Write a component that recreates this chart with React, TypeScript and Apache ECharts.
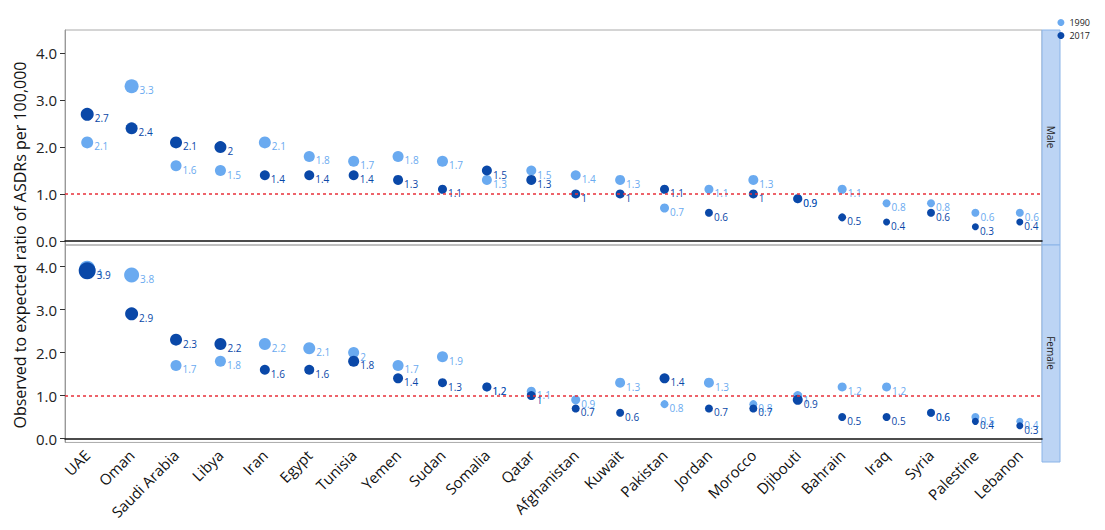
import React, { useEffect, useRef } from "react";
import * as echarts from "echarts";

const countries = ["UAE", "Oman", "Saudi Arabia", "Libya", "Iran", "Egypt", "Tunisia", "Yemen", "Sudan", "Somalia", "Qatar", "Afghanistan", "Kuwait", "Pakistan", "Jordan", "Morocco", "Djibouti", "Bahrain", "Iraq", "Syria", "Palestine", "Lebanon"];

const male1990 = [2.1, 3.3, 1.6, 1.5, 2.1, 1.8, 1.7, 1.8, 1.7, 1.3, 1.5, 1.4, 1.3, 0.7, 1.1, 1.3, 0.9, 1.1, 0.8, 0.8, 0.6, 0.6];
const male2017 = [2.7, 2.4, 2.1, 2.0, 1.4, 1.4, 1.4, 1.3, 1.1, 1.5, 1.3, 1.0, 1.0, 1.1, 0.6, 1.0, 0.9, 0.5, 0.4, 0.6, 0.3, 0.4];
const female1990 = [3.95, 3.8, 1.7, 1.8, 2.2, 2.1, 2.0, 1.7, 1.9, 1.2, 1.1, 0.9, 1.3, 0.8, 1.3, 0.8, 1.0, 1.2, 1.2, 0.6, 0.5, 0.4];
const female2017 = [3.9, 2.9, 2.3, 2.2, 1.6, 1.6, 1.8, 1.4, 1.3, 1.2, 1.0, 0.7, 0.6, 1.4, 0.7, 0.7, 0.9, 0.5, 0.5, 0.6, 0.4, 0.3];

const male1990Size = [12, 14, 11, 11, 12, 11, 11, 11, 11, 10, 10, 10, 10, 9, 9, 10, 9, 9, 8, 8, 8, 8];
const male2017Size = [13, 12, 12, 12, 10, 10, 10, 10, 9, 10, 10, 9, 9, 9, 8, 9, 9, 8, 7, 8, 7, 7];
const female1990Size = [16, 15, 11, 11, 12, 12, 11, 11, 11, 9, 9, 9, 10, 8, 10, 8, 9, 9, 9, 8, 8, 7];
const female2017Size = [17, 13, 12, 12, 10, 10, 11, 10, 9, 9, 9, 8, 8, 10, 8, 8, 10, 8, 8, 8, 7, 7];

const c1990 = "#6aaaf0";
const c2017 = "#0a48a8";

function dots(name: string, vals: number[], sizes: number[], color: string, g: number, withLine: boolean) {
  return {
    name,
    type: "scatter",
    xAxisIndex: g,
    yAxisIndex: g,
    data: vals.map((v, i) => ({ value: [countries[i], v], symbolSize: sizes[i] })),
    itemStyle: { color, opacity: 1 },
    label: {
      show: true,
      position: "right",
      distance: 1,
      offset: [0, 4],
      fontSize: 10,
      color,
      formatter: (p: any) => String(Math.round(p.value[1] * 10) / 10),
    },
    markLine: withLine
      ? {
          silent: true,
          symbol: "none",
          label: { show: false },
          lineStyle: { color: "#e8303a", type: [3, 3], width: 1.5 },
          data: [{ yAxis: 1 }],
        }
      : undefined,
  };
}

const App = () => {
  const ref = useRef<HTMLDivElement>(null);

  useEffect(() => {
    if (!ref.current) return;
    const chart = echarts.init(ref.current, null, { renderer: "svg" });
    const yAxis = (g: number) => ({
      gridIndex: g,
      type: "value",
      min: -0.09,
      max: 4.5,
      axisLine: { show: true, lineStyle: { color: "#999" } },
      axisTick: { show: true, customValues: [0, 1, 2, 3, 4], lineStyle: { color: "#333" } },
      axisLabel: { customValues: [0, 1, 2, 3, 4], fontSize: 15, color: "#222", formatter: (v: number) => v.toFixed(1) },
      splitLine: { show: false },
    });
    const xAxis = (g: number) => ({
      gridIndex: g,
      type: "category",
      data: countries,
      axisLine: { show: true, lineStyle: { color: "#111", width: 1.5 } },
      axisTick: { show: false },
      axisLabel: g === 1 ? { rotate: 45, fontSize: 15, color: "#111", interval: 0, margin: 10 } : { show: false },
    });
    const font = "'Open Sans', sans-serif";
    chart.setOption({
      animation: false,
      textStyle: { fontFamily: font },
      legend: {
        right: 2,
        top: 5,
        orient: "vertical",
        itemWidth: 7,
        itemHeight: 7,
        itemGap: 4,
        icon: "circle",
        textStyle: { fontSize: 9, color: "#222" },
        data: ["1990", "2017"],
      },
      grid: [
        { left: 57, right: 55, top: 22, height: 215, show: true, borderColor: "#aaa", backgroundColor: "transparent" },
        { left: 57, right: 55, top: 237, height: 217, show: true, borderColor: "#aaa", backgroundColor: "transparent" },
      ],
      xAxis: [xAxis(0), xAxis(1)],
      yAxis: [yAxis(0), yAxis(1)],
      series: [
        dots("1990", male1990, male1990Size, c1990, 0, true),
        dots("2017", male2017, male2017Size, c2017, 0, false),
        dots("1990", female1990, female1990Size, c1990, 1, true),
        dots("2017", female2017, female2017Size, c2017, 1, false),
      ],
      graphic: [
        { type: "rect", x: 1034, y: 22, shape: { width: 18, height: 215 }, style: { fill: "#bcd4f4", stroke: "#8ab4e8" } },
        { type: "rect", x: 1034, y: 237, shape: { width: 18, height: 217 }, style: { fill: "#bcd4f4", stroke: "#8ab4e8" } },
        { type: "text", x: 1043, y: 129, rotation: -Math.PI / 2, style: { text: "Male", fontSize: 10, fill: "#222", align: "center", verticalAlign: "middle", fontFamily: font } },
        { type: "text", x: 1043, y: 345, rotation: -Math.PI / 2, style: { text: "Female", fontSize: 10, fill: "#222", align: "center", verticalAlign: "middle", fontFamily: font } },
        { type: "text", x: 12, y: 237, rotation: Math.PI / 2, style: { text: "Observed to expected ratio of ASDRs per 100,000", fontSize: 16, fill: "#111", align: "center", verticalAlign: "middle", fontFamily: font } },
      ],
    });
    return () => chart.dispose();
  }, []);

  return <div ref={ref} style={{ width: 1089, height: 514 }} />;
};

export default App;
